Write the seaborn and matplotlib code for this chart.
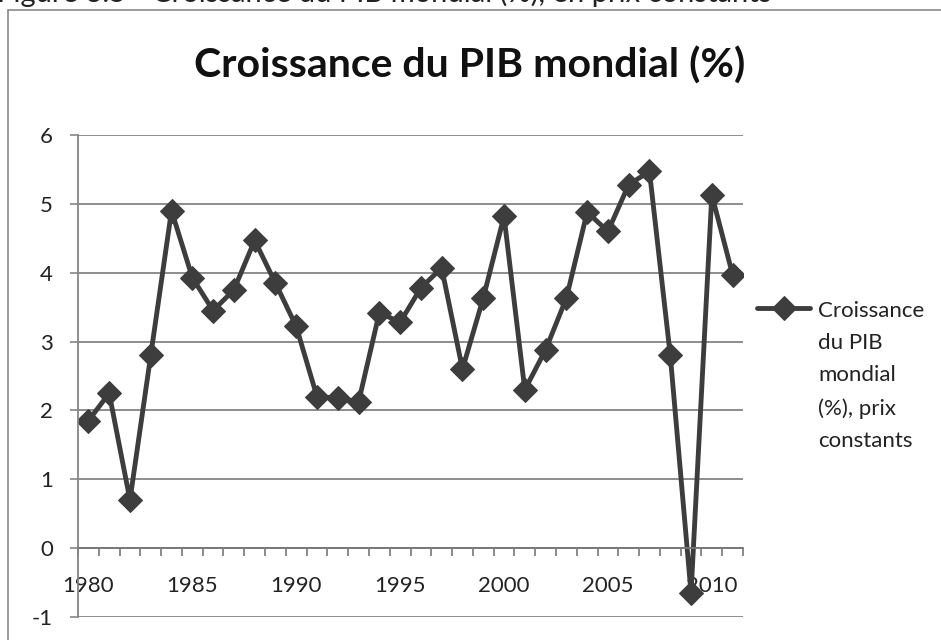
import pandas as pd
import matplotlib
matplotlib.use("Agg")
import matplotlib.pyplot as plt
import matplotlib.transforms as mtransforms
import seaborn as sns
from matplotlib.patches import Rectangle
from matplotlib.legend_handler import HandlerLine2D

years = list(range(1980, 2012))
growth = [1.85, 2.25, 0.70, 2.80, 4.90, 3.93, 3.45, 3.75, 4.47, 3.85,
          3.22, 2.20, 2.18, 2.12, 3.42, 3.28, 3.78, 4.07, 2.60, 3.63,
          4.82, 2.30, 2.88, 3.63, 4.88, 4.60, 5.28, 5.47, 2.80, -0.65,
          5.13, 3.97]
xtick_years = [1980, 1985, 1990, 1995, 2000, 2005, 2010]
serie = "Croissance\ndu PIB\nmondial\n(%), prix\nconstants"

df = pd.DataFrame({"annee": years, "pib": growth})

sns.set_theme(style="white")
plt.rcParams["font.family"] = ["Lato", "DejaVu Sans"]
plt.rcParams["axes.unicode_minus"] = False

LEG_SPACING = 1.76


# symbole de legende aligne sur la premiere ligne (comme Excel)
class HandlerTop(HandlerLine2D):
    def create_artists(self, legend, orig_handle, xdescent, ydescent, width, height, fontsize, trans):
        arts = super().create_artists(legend, orig_handle, xdescent, ydescent, width, height, fontsize, trans)
        shift = mtransforms.Affine2D().translate(0, 2 * 34 * 0.72) + trans
        for a in arts:
            a.set_transform(shift)
        return arts


fig = plt.figure(figsize=(9.41, 6.4), dpi=100)
ax = fig.add_axes([78 / 941, 1 - 617 / 640, 665 / 941, 482 / 640])

# cadre du graphique + legende de figure coupee en haut
fig.patches.append(Rectangle((8 / 941, -0.1), 1.2, 1 - 10 / 640 + 0.1, transform=fig.transFigure,
                             fill=False, edgecolor="#8a8a8a", linewidth=1.2))
fig.text(-0.003, 1 - 2 / 640, "Figure 3.5 - Croissance du PIB mondial (%), en prix constants",
         fontsize=21, color="#222222", va="baseline", ha="left")

sns.lineplot(data=df, x="annee", y="pib", ax=ax, color="#3d3d3d", linewidth=3.5,
             marker="D", markersize=12, markeredgecolor="#3d3d3d", label=serie)

ax.set_xlim(1979.5, 2011.5)
ax.set_ylim(-1, 6)
ax.set_yticks(range(-1, 7))
ax.yaxis.grid(True, color="#858585", linewidth=1.3)
ax.set_xticks(xtick_years)
ax.set_xticks([y + 0.5 for y in range(1979, 2012)], minor=True)
ax.tick_params(axis="x", which="major", length=0, pad=20, labelsize=16, labelcolor="#222222")
ax.tick_params(axis="x", which="minor", bottom=True, length=6, width=1.2, color="#777777", direction="out")
ax.tick_params(axis="y", left=True, length=6, width=1.2, color="#858585", pad=12,
               labelsize=16, labelcolor="#222222")
ax.set_xlabel("")
ax.set_ylabel("")

for s in ["top", "right"]:
    ax.spines[s].set_visible(False)
ax.spines["bottom"].set_position(("data", 0))
ax.spines["bottom"].set_color("#777777")
ax.spines["bottom"].set_linewidth(1.3)
ax.spines["left"].set_color("#858585")
ax.spines["left"].set_linewidth(1.3)

fig.text(470 / 941, 1 - 66 / 640, "Croissance du PIB mondial (%)", fontsize=29.5,
         fontweight="bold", ha="center", va="center", color="#111111")

handles, labels = ax.get_legend_handles_labels()
leg = ax.legend(handles, labels, loc="upper left", bbox_to_anchor=(757 / 941, 1 - 301 / 640),
                bbox_transform=fig.transFigure, frameon=False, fontsize=16, handlelength=2.4,
                handletextpad=0.35, labelspacing=0, borderaxespad=0, borderpad=0,
                handler_map={handles[0]: HandlerTop()})
for t in leg.get_texts():
    t.set_linespacing(LEG_SPACING)
    t.set_color("#222222")

fig.savefig("out.png", dpi=100)
